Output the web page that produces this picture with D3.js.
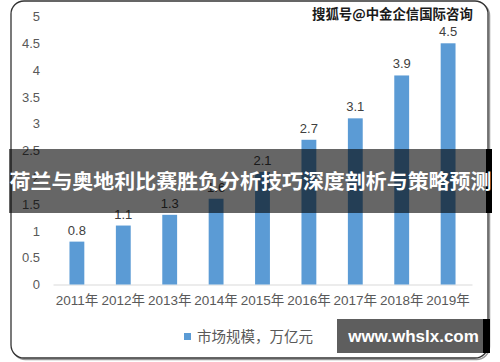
<!DOCTYPE html>
<html><head><meta charset="utf-8">
<script src="https://cdn.jsdelivr.net/npm/d3@7"></script>
<style>html,body{margin:0;padding:0;background:#fff;}svg{display:block;}</style>
</head><body>
<svg id="c" width="500" height="362"></svg>
<script>
const years = ["2011年","2012年","2013年","2014年","2015年","2016年","2017年","2018年","2019年"];
const values = [0.8, 1.1, 1.3, 1.6, 2.1, 2.7, 3.1, 3.9, 4.5];
const yTicks = [0, 0.5, 1, 1.5, 2, 2.5, 3, 3.5, 4, 4.5, 5];
const seriesName = "市场规模，万亿元";
const bannerText = "荷兰与奥地利比赛胜负分析技巧深度剖析与策略预测";
const watermark = "搜狐号@中金企信国际咨询";
const siteText = "www.whslx.com";

const svg = d3.select("#c");
const font = "'Liberation Sans', 'Noto Sans CJK SC', sans-serif";
const cjk = "'Noto Sans CJK SC', sans-serif";

svg.append("rect").attr("width",500).attr("height",362).attr("fill","#fff");

// frame with slight shadow
svg.append("rect").attr("x",12.5).attr("y",2.5).attr("width",477).attr("height",357).attr("rx",13)
  .attr("fill","none").attr("stroke","#555").attr("stroke-width",1.5).attr("opacity",0.6);
svg.append("rect").attr("x",11).attr("y",1).attr("width",477).attr("height",357).attr("rx",13)
  .attr("fill","#fff").attr("stroke","#333").attr("stroke-width",1.3);

const x = d3.scaleBand().domain(years).range([53,472]).paddingInner(0.68).paddingOuter(0.355);
const y = d3.scaleLinear().domain([0,5]).range([284.5,16.5]);

// y axis labels
const yAxis = d3.axisLeft(y).tickValues(yTicks).tickSize(0).tickPadding(0).tickFormat(d3.format("~g"));
const yg = svg.append("g").attr("transform","translate(40,0)").call(yAxis);
yg.select(".domain").remove();
yg.selectAll("text").attr("font-family",font).attr("font-size",13).attr("fill","#595959");

// x axis
const xAxis = d3.axisBottom(x).tickSize(0).tickPadding(11);
const xg = svg.append("g").attr("transform","translate(0,284.5)").call(xAxis);
xg.select(".domain").attr("stroke","#d9d9d9").attr("stroke-width",1);
xg.selectAll("text").attr("font-family",font).attr("font-size",13.5).attr("fill","#595959");

// bars
svg.append("g").selectAll("rect").data(values).join("rect")
  .attr("x",(d,i)=>x(years[i])).attr("width",x.bandwidth())
  .attr("y",d=>y(d)).attr("height",d=>y(0)-y(d)).attr("fill","#5b9bd5");

// value labels
svg.append("g").selectAll("text").data(values).join("text")
  .attr("x",(d,i)=>x(years[i])+x.bandwidth()/2).attr("y",d=>y(d)-7)
  .attr("text-anchor","middle").attr("font-family",font).attr("font-size",13).attr("fill","#404040")
  .text(d=>d3.format(".1f")(d));

// legend
svg.append("rect").attr("x",184).attr("y",333).attr("width",7).attr("height",7).attr("fill","#5b9bd5");
svg.append("text").attr("x",197).attr("y",342).attr("font-family",cjk).attr("font-size",14.5)
  .attr("fill","#595959").text(seriesName);

// watermark
svg.append("text").attr("x",312).attr("y",19).attr("font-family",cjk).attr("font-size",13.4)
  .attr("font-weight","bold").attr("fill","#1a1a1a").attr("stroke","#fff").attr("stroke-width",2.2)
  .attr("paint-order","stroke").text(watermark);

// banner
svg.append("rect").attr("x",486).attr("y",149).attr("width",6).attr("height",64).attr("fill","#000");
svg.append("rect").attr("x",9).attr("y",149).attr("width",477).attr("height",64).attr("fill","rgba(0,0,0,0.6)");
svg.append("text").attr("x",250.5).attr("y",189).attr("text-anchor","middle")
  .attr("font-family",cjk).attr("font-size",20.2).attr("font-weight","bold").attr("fill","#fff")
  .attr("textLength",482).attr("lengthAdjust","spacingAndGlyphs").text(bannerText);

// site box
svg.append("rect").attr("x",483).attr("y",319).attr("width",7).attr("height",34).attr("fill","#000");
svg.append("rect").attr("x",337).attr("y",319).attr("width",146).attr("height",34).attr("fill","#5e5e5e");
svg.append("text").attr("x",413.5).attr("y",342).attr("text-anchor","middle")
  .attr("font-family","'Liberation Sans', sans-serif").attr("font-size",17).attr("font-weight","bold")
  .attr("fill","#fff").text(siteText);
</script>
</body></html>
